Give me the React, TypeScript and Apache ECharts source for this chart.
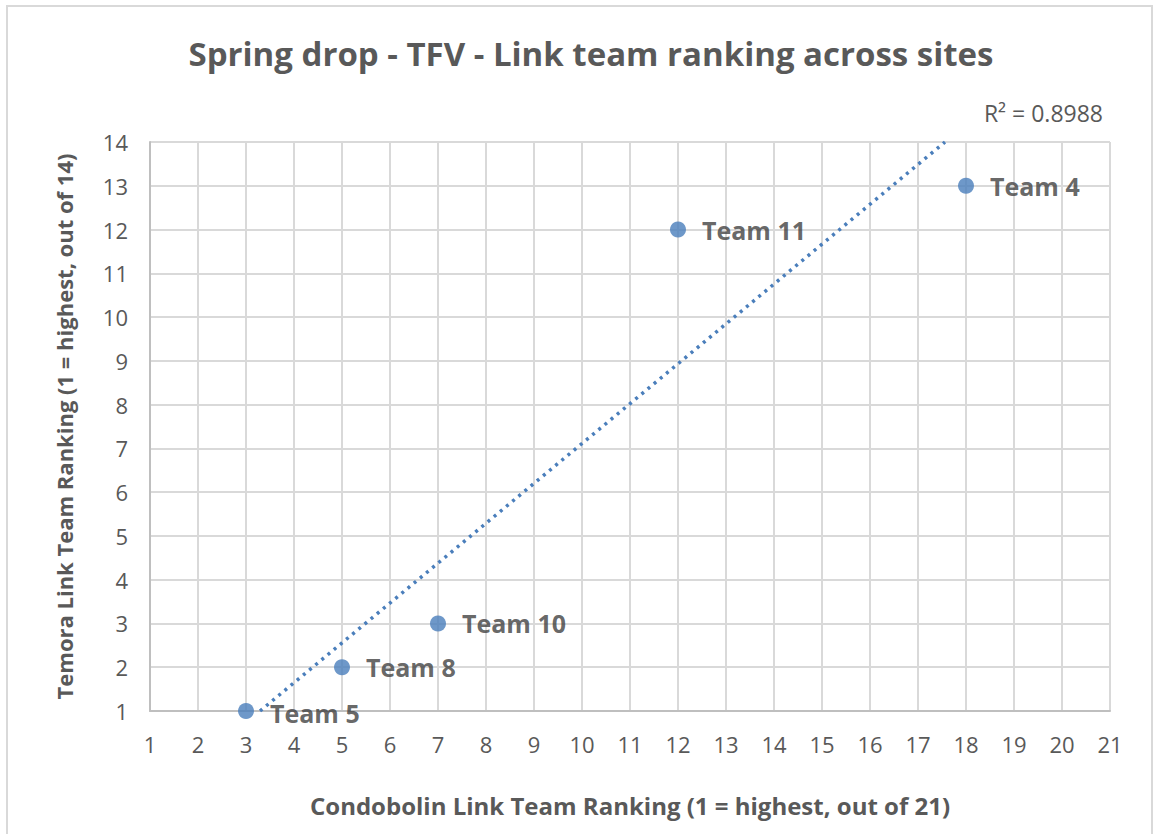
import React, { useEffect, useRef } from "react";
import * as echarts from "echarts";

const teamNames = ["Team 5", "Team 8", "Team 10", "Team 11", "Team 4"];
const condobolinRank = [3, 5, 7, 12, 18];
const temoraRank = [1, 2, 3, 12, 13];

const titleText = "Spring drop - TFV - Link team ranking across sites";
const xAxisName = "Condobolin Link Team Ranking (1 = highest, out of 21)";
const yAxisName = "Temora Link Team Ranking (1 = highest, out of 14)";

const X_MIN = 1, X_MAX = 21, Y_MIN = 1, Y_MAX = 14;

function regression(xs: number[], ys: number[]) {
  const n = xs.length;
  const mx = xs.reduce((a, b) => a + b, 0) / n;
  const my = ys.reduce((a, b) => a + b, 0) / n;
  let sxx = 0, sxy = 0, syy = 0;
  for (let i = 0; i < n; i++) {
    sxx += (xs[i] - mx) ** 2;
    sxy += (xs[i] - mx) * (ys[i] - my);
    syy += (ys[i] - my) ** 2;
  }
  const slope = sxy / sxx;
  const intercept = my - slope * mx;
  const r2 = (sxy * sxy) / (sxx * syy);
  return { slope, intercept, r2 };
}

export default function App() {
  const ref = useRef<HTMLDivElement>(null);
  useEffect(() => {
    if (!ref.current) return;
    const chart = echarts.init(ref.current, undefined, { renderer: "svg" });
    const { slope, intercept, r2 } = regression(condobolinRank, temoraRank);
    const xStartData = Math.min(...condobolinRank);
    const xEndData = Math.max(...condobolinRank);
    const xAtYMin = (Y_MIN - intercept) / slope;
    const xAtYMax = (Y_MAX - intercept) / slope;
    const x0 = Math.max(xStartData, xAtYMin);
    const x1 = Math.min(xEndData, xAtYMax);
    const trend = [
      [x0, slope * x0 + intercept],
      [x1, slope * x1 + intercept],
    ];
    const font = "'Open Sans', 'Noto Sans', sans-serif";
    const blue = "#4a7ebb";
    chart.setOption({
      animation: false,
      backgroundColor: "#ffffff",
      title: {
        text: titleText,
        left: 586,
        top: 32,
        textAlign: "center",
        textStyle: { color: "#595959", fontSize: 33, fontWeight: "bold", fontFamily: font },
      },
      grid: { left: 150, right: 48, top: 142, bottom: 123, containLabel: false },
      xAxis: {
        type: "value",
        min: X_MIN,
        max: X_MAX,
        interval: 1,
        name: xAxisName,
        nameLocation: "middle",
        nameGap: 82,
        nameTextStyle: { color: "#595959", fontSize: 24, fontWeight: "bold", fontFamily: font },
        axisLine: { show: true, lineStyle: { color: "#bfbfbf", width: 2 } },
        axisTick: { show: false },
        axisLabel: { color: "#595959", fontSize: 22, fontFamily: font, margin: 22, lineHeight: 22 },
        splitLine: { show: true, lineStyle: { color: "#d9d9d9", width: 2 } },
      },
      yAxis: {
        type: "value",
        min: Y_MIN,
        max: Y_MAX,
        interval: 1,
        name: yAxisName,
        nameLocation: "middle",
        nameGap: 75,
        nameTextStyle: { color: "#595959", fontSize: 22, fontWeight: "bold", fontFamily: font },
        axisLine: { show: true, lineStyle: { color: "#bfbfbf", width: 2 } },
        axisTick: { show: false },
        axisLabel: { color: "#595959", fontSize: 22, fontFamily: font, margin: 22 },
        splitLine: { show: true, lineStyle: { color: "#d9d9d9", width: 2 } },
      },
      graphic: [
        {
          type: "rect",
          shape: { x: 7, y: 6, width: 1145, height: 840 },
          style: { fill: "none", stroke: "#d9d9d9", lineWidth: 2 },
          silent: true,
          z: -10,
        },
        {
          type: "text",
          x: 1103,
          y: 113,
          style: {
            text: "R² = " + r2.toFixed(4),
            fill: "#595959",
            fontSize: 23,
            fontFamily: font,
            textAlign: "right",
            textVerticalAlign: "middle",
          },
        },
      ],
      series: [
        {
          type: "line",
          data: trend,
          symbol: "none",
          clip: true,
          lineStyle: { color: blue, width: 3.5, type: [3, 5] },
          z: 2,
        },
        {
          type: "scatter",
          data: condobolinRank.map((x, i) => ({
            value: [x, temoraRank[i]],
            name: teamNames[i],
            label: i === 0 ? { offset: [0, 2] } : undefined,
          })),
          symbol: "circle",
          symbolSize: 16,
          itemStyle: { color: blue },
          label: {
            show: true,
            position: "right",
            distance: 16,
            formatter: (p: any) => p.name,
            color: "#404040",
            fontSize: 25,
            lineHeight: 24,
            fontWeight: "bold",
            fontFamily: font,
          },
          z: 3,
        },
      ],
    });
    return () => chart.dispose();
  }, []);
  return (
    <div
      ref={ref}
      style={{ position: "absolute", left: 0, top: 0, width: 1158, height: 834 }}
    />
  );
}
